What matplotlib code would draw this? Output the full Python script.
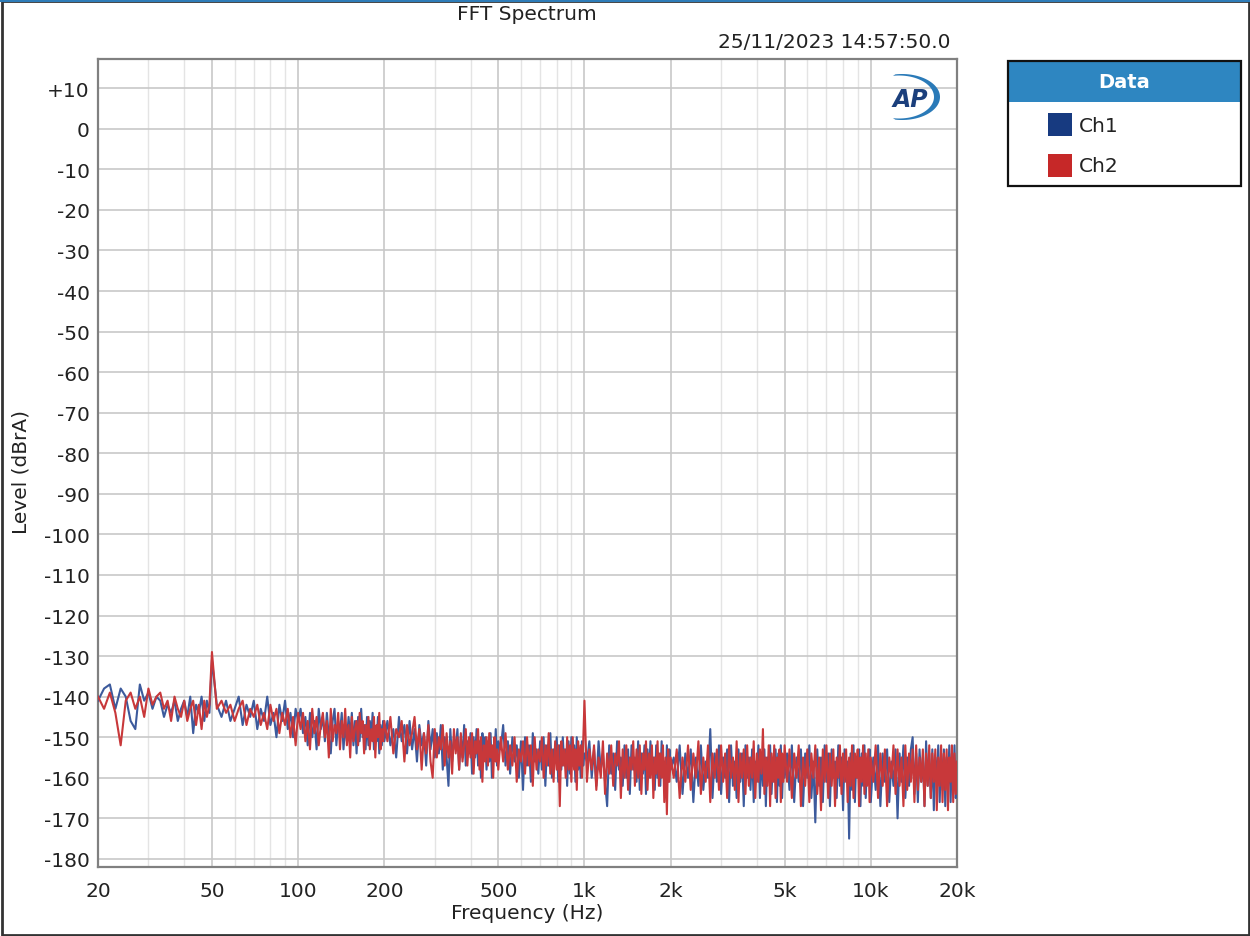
import numpy as np
import matplotlib
matplotlib.use("Agg")
import matplotlib.pyplot as plt
from matplotlib.patches import Rectangle, Polygon
from matplotlib.ticker import FixedLocator, LogLocator, NullFormatter

plt.rcParams['font.family'] = ['DejaVu Sans']

# frequency bins (Hz), coarse resampling of the FFT grid
freq = (list(range(20, 51, 1)) + list(range(52, 101, 2)) + list(range(102, 201, 2))
        + list(range(205, 501, 5)) + list(range(510, 1001, 10)) + list(range(1020, 2001, 20))
        + list(range(2050, 5001, 50)) + list(range(5100, 10001, 100)) + list(range(10200, 20001, 200)))

# Ch1 level (dBrA)
ch1 = [
    # 20..50
    -141, -138, -137, -143, -138, -140, -146, -148, -137, -141, -139, -143, -140, -141, -145, -142,
    -144, -141, -146, -143, -141, -145, -140, -149, -142, -144, -140, -146, -141, -144, -131,
    # 52..100
    -142, -145, -141, -146, -143, -140, -147, -142, -145, -141, -148, -143, -146, -140, -147, -144,
    -150, -142, -146, -141, -148, -144, -150, -143, -146,
    # 102..200
    -143, -149, -145, -152, -144, -150, -146, -153, -143, -148,
    -145, -151, -144, -150, -154, -146, -143, -152, -146, -149,
    -144, -153, -147, -151, -145, -150, -144, -152, -146, -154,
    -145, -151, -143, -150, -147, -153, -145, -152, -146, -150,
    -144, -153, -148, -151, -145, -154, -147, -152, -146, -151,
    # 205..500
    -146, -152, -148, -155, -145, -151, -147, -154, -146, -153,
    -148, -156, -147, -152, -149, -157, -146, -153, -148, -155,
    -149, -154, -147, -158, -150, -155, -162, -148, -156, -150,
    -153, -148, -158, -150, -155, -147, -157, -151, -154, -149,
    -159, -150, -155, -148, -157, -151, -160, -149, -154, -150,
    -158, -151, -156, -149, -160, -152, -155, -148, -157, -151,
    # 510..1000
    -153, -147, -157, -151, -159, -150, -156, -152, -160, -151,
    -163, -150, -157, -152, -161, -149, -156, -153, -159, -151,
    -158, -150, -162, -152, -157, -149, -160, -153, -156, -150,
    -161, -152, -158, -150, -157, -153, -162, -151, -159, -150,
    -157, -152, -161, -150, -158, -153, -160, -151, -157, -154,
    # 1020..2000
    -156, -151, -160, -153, -162, -151, -158, -154, -161, -167,
    -152, -159, -154, -163, -151, -158, -155, -162, -152, -160,
    -153, -164, -152, -158, -155, -161, -151, -163, -154, -159,
    -152, -164, -153, -160, -151, -158, -155, -163, -152, -160,
    -154, -162, -151, -159, -156, -164, -152, -161, -153, -158,
    # 2050..5000
    -155, -161, -152, -164, -154, -160, -153, -166, -155, -162,
    -152, -163, -156, -160, -148, -165, -154, -161, -152, -164,
    -155, -160, -153, -166, -152, -162, -156, -165, -153, -161,
    -154, -167, -152, -160, -155, -163, -153, -166, -156, -161,
    -152, -165, -154, -162, -153, -167, -155, -160, -152, -164,
    -156, -161, -153, -166, -154, -162, -152, -165, -155, -160,
    # 5100..10000
    -154, -163, -152, -166, -155, -161, -153, -167, -154, -160,
    -152, -165, -156, -171, -153, -162, -155, -166, -152, -161,
    -154, -167, -153, -160, -156, -165, -152, -162, -155, -168,
    -153, -161, -156, -175, -154, -163, -152, -166, -155, -160,
    -153, -167, -154, -162, -152, -165, -156, -161, -153, -166,
    # 10200..20000
    -155, -163, -152, -167, -154, -161, -153, -166, -156, -162,
    -153, -170, -154, -161, -152, -165, -155, -162, -153, -150,
    -164, -154, -166, -153, -161, -155, -167, -151, -162, -154,
    -165, -153, -168, -155, -161, -152, -166, -154, -163, -153,
    -167, -155, -162, -152, -166, -154, -163, -152, -165, -160,
]

# Ch2 level (dBrA)
ch2 = [
    # 20..50
    -140, -143, -139, -144, -152, -141, -139, -143, -140, -145, -138, -142, -140, -139, -143, -141,
    -146, -140, -143, -145, -141, -146, -143, -141, -147, -142, -148, -141, -145, -142, -129,
    # 52..100
    -143, -141, -144, -142, -146, -143, -141, -147, -143, -145, -142, -147, -144, -148, -142, -146,
    -143, -149, -144, -147, -143, -150, -145, -152, -144,
    # 102..200
    -148, -144, -151, -146, -153, -143, -149, -145, -152, -147,
    -144, -150, -146, -155, -143, -151, -147, -149, -144, -153,
    -146, -150, -143, -152, -147, -155, -145, -151, -148, -146,
    -152, -144, -149, -146, -154, -147, -150, -145, -153, -148,
    -151, -145, -155, -147, -150, -144, -153, -148, -151, -146,
    # 205..500
    -151, -145, -154, -148, -150, -146, -156, -147, -152, -149,
    -145, -153, -148, -158, -149, -154, -147, -156, -160, -148,
    -155, -150, -153, -147, -157, -149, -155, -151, -159, -148,
    -154, -150, -158, -149, -156, -152, -148, -157, -150, -155,
    -149, -159, -151, -154, -148, -158, -150, -161, -152, -156,
    -150, -157, -149, -155, -152, -160, -150, -156, -153, -158,
    # 510..1000
    -150, -156, -149, -158, -152, -157, -150, -161, -153, -156,
    -151, -159, -150, -157, -152, -162, -150, -158, -153, -156,
    -150, -160, -152, -157, -149, -159, -153, -161, -151, -158,
    -152, -167, -151, -157, -153, -160, -150, -158, -152, -161,
    -150, -158, -153, -163, -151, -157, -152, -160, -151, -141,
    # 1020..2000
    -161, -153, -158, -152, -163, -155, -160, -151, -164, -154,
    -159, -152, -162, -154, -157, -151, -165, -153, -160, -152,
    -163, -155, -158, -151, -162, -153, -160, -152, -164, -154,
    -158, -151, -163, -154, -160, -152, -165, -155, -159, -151,
    -162, -154, -160, -152, -166, -155, -169, -153, -161, -155,
    # 2050..5000
    -160, -153, -165, -155, -161, -152, -163, -154, -160, -151,
    -164, -155, -161, -152, -166, -154, -160, -153, -163, -152,
    -161, -154, -165, -152, -160, -155, -163, -151, -166, -154,
    -160, -153, -164, -152, -162, -155, -160, -151, -165, -154,
    -161, -153, -159, -148, -164, -155, -162, -152, -167, -154,
    -161, -152, -165, -155, -160, -153, -166, -154, -161, -152,
    # 5100..10000
    -161, -153, -165, -154, -160, -152, -167, -155, -162, -153,
    -166, -154, -160, -152, -164, -155, -168, -153, -161, -152,
    -165, -154, -162, -153, -167, -155, -160, -152, -164, -154,
    -161, -153, -166, -155, -162, -152, -165, -154, -160, -153,
    -167, -155, -161, -152, -164, -154, -162, -153, -166, -155,
    # 10200..20000
    -161, -152, -165, -154, -162, -153, -167, -155, -160, -152,
    -164, -153, -162, -155, -167, -152, -163, -154, -161, -153,
    -166, -152, -163, -155, -161, -153, -167, -154, -162, -152,
    -165, -154, -161, -153, -168, -155, -162, -152, -166, -154,
    -163, -153, -168, -155, -161, -152, -166, -154, -164, -156,
]

channels = ["Ch1", "Ch2"]
line_colors = ["#3c5a9c", "#c8383a"]
swatch_colors = ["#173a80", "#c62828"]

xticks = [20, 50, 100, 200, 500, 1000, 2000, 5000, 10000, 20000]
xticklabels = ["20", "50", "100", "200", "500", "1k", "2k", "5k", "10k", "20k"]
yticks = list(range(-180, 11, 10))
yticklabels = ["+10" if v > 0 else str(v) for v in yticks]

title = "FFT Spectrum"
stamp = "25/11/2023 14:57:50.0"

W, H = 1250, 937
fs = 14.5
txt = "#222222"

fig = plt.figure(figsize=(W / 100, H / 100), dpi=100)
fig.patch.set_facecolor("white")

ax = fig.add_axes([98 / W, 1 - 868 / H, (957 - 98) / W, (868 - 60) / H])
ax.semilogx(freq, ch1, color=line_colors[0], lw=1.5, zorder=3)
ax.semilogx(freq, ch2, color=line_colors[1], lw=1.5, zorder=4)

ax.set_xlim(20, 20000)
ax.set_ylim(-182, 17.2)
ax.xaxis.set_major_locator(FixedLocator(xticks))
ax.set_xticklabels(xticklabels)
ax.xaxis.set_minor_locator(LogLocator(base=10, subs=np.arange(1, 10)))
ax.xaxis.set_minor_formatter(NullFormatter())
ax.set_yticks(yticks)
ax.set_yticklabels(yticklabels)
ax.tick_params(which="both", length=0, labelsize=fs, colors=txt)
ax.tick_params(axis="x", pad=10)
ax.tick_params(axis="y", pad=6)
ax.grid(which="major", color="#c8c8c8", lw=1.2)
ax.grid(which="minor", axis="x", color="#e4e4e4", lw=1.0)
for s in ax.spines.values():
    s.set_color("#808080")
    s.set_linewidth(1.6)

ax.set_xlabel("Frequency (Hz)", fontsize=fs, color=txt)
ax.set_ylabel("Level (dBrA)", fontsize=fs, color=txt)
ax.xaxis.set_label_coords(0.5, -0.044)
ax.yaxis.set_label_coords(-0.078, 0.49)

fig.text(527 / W, 1 - 15 / H, title, ha="center", va="center", fontsize=fs, color=txt)
fig.text(951 / W, 1 - 43 / H, stamp, ha="right", va="center", fontsize=fs, color=txt)

# decorations in pixel coordinates: window frame, legend panel, AP logo
deco = fig.add_axes([0, 0, 1, 1])
deco.set_xlim(0, W)
deco.set_ylim(H, 0)
deco.axis("off")

deco.add_patch(Rectangle((1.5, 1.5), W - 3, H - 3, fill=False, ec="#333333", lw=2))
deco.add_patch(Rectangle((0, 0), W, 3, color="#2e7cb8", lw=0))

deco.add_patch(Rectangle((1008, 62), 233, 41, color="#2e86c1", lw=0))
deco.add_patch(Rectangle((1008, 62), 233, 125, fill=False, ec="#111111", lw=1.6))
deco.text(1124, 82, "Data", ha="center", va="center", fontsize=14, fontweight="bold", color="white")
for i, (name, col) in enumerate(zip(channels, swatch_colors)):
    yc = 125 + 41 * i
    deco.add_patch(Rectangle((1048, yc - 11.5), 24, 23, color=col, lw=0))
    deco.text(1079, yc + 1, name, ha="left", va="center", fontsize=fs, color=txt)

# AP logo: tapered crescent plus bold italic letters
t = np.radians(np.linspace(-100, 100, 60))
outer = np.column_stack([902 + 38 * np.cos(t), 98 + 23 * np.sin(t)])
inner = np.column_stack([899 + 35 * np.cos(t[::-1]), 98 + 21.5 * np.sin(t[::-1])])
deco.add_patch(Polygon(np.vstack([outer, inner]), closed=True, color="#2a7ab8", lw=0))
deco.text(910, 100, "AP", ha="center", va="center", fontsize=17, fontweight="bold",
          fontstyle="italic", color="#1b3f7c")

fig.savefig("out.png", dpi=100)
